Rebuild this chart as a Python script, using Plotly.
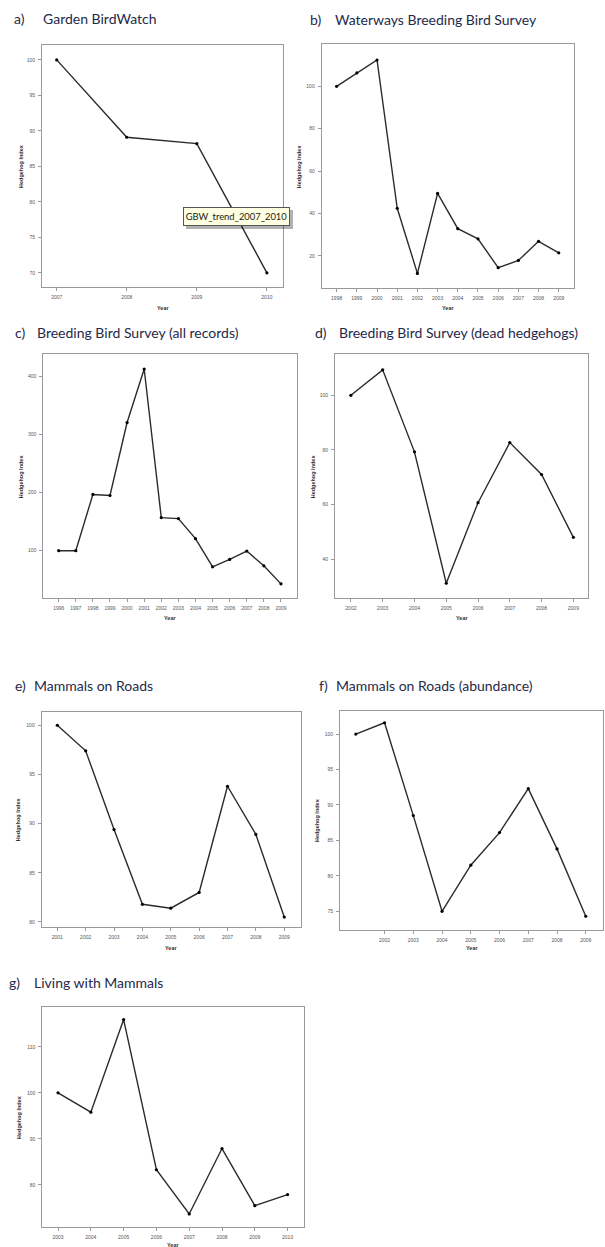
import plotly.graph_objects as go

# ---------------- data ----------------
years_a = [2007, 2008, 2009, 2010]
index_a = [100.0, 89.1, 88.2, 70.0]

years_b = [1998, 1999, 2000, 2001, 2002, 2003, 2004, 2005, 2006, 2007, 2008, 2009]
index_b = [100.0, 106.3, 112.4, 42.5, 11.8, 49.5, 32.9, 28.1, 14.5, 17.9, 26.9, 21.5]

years_c = [1996, 1997, 1998, 1999, 2000, 2001, 2002, 2003, 2004, 2005, 2006, 2007, 2008, 2009]
index_c = [100.0, 100.0, 196.6, 194.8, 320.1, 412.0, 156.9, 155.2, 120.7, 72.4, 85.1, 99.4, 74.1, 43.1]

years_d = [2002, 2003, 2004, 2005, 2006, 2007, 2008, 2009]
index_d = [100.0, 109.3, 79.3, 31.2, 60.7, 82.7, 71.0, 48.0]

years_e = [2001, 2002, 2003, 2004, 2005, 2006, 2007, 2008, 2009]
index_e = [100.0, 97.4, 89.4, 81.8, 81.4, 83.0, 93.8, 88.9, 80.5]

years_f = [2001, 2002, 2003, 2004, 2005, 2006, 2007, 2008, 2009]
index_f = [100.0, 101.6, 88.5, 75.0, 81.5, 86.1, 92.3, 83.8, 74.3]
xticks_f = [2002, 2003, 2004, 2005, 2006, 2007, 2008, 2009]

years_g = [2003, 2004, 2005, 2006, 2007, 2008, 2009, 2010]
index_g = [100.0, 95.8, 115.9, 83.3, 73.7, 87.9, 75.5, 77.9]

yticks_a = [70, 75, 80, 85, 90, 95, 100]
yticks_b = [20, 40, 60, 80, 100]
yticks_c = [100, 200, 300, 400]
yticks_d = [40, 60, 80, 100]
yticks_e = [80, 85, 90, 95, 100]
yticks_f = [75, 80, 85, 90, 95, 100]
yticks_g = [80, 90, 100, 110]

letters = ["a)", "b)", "c)", "d)", "e)", "f)", "g)"]
titles = [
    "Garden BirdWatch",
    "Waterways Breeding Bird Survey",
    "Breeding Bird Survey (all records)",
    "Breeding Bird Survey (dead hedgehogs)",
    "Mammals on Roads",
    "Mammals on Roads (abundance)",
    "Living with Mammals",
]
tooltip_text = "GBW_trend_2007_2010"

# ---------------- layout (pixel geometry) ----------------
W, H = 605, 1247
panels = [
    dict(x=years_a, y=index_a, xt=years_a, yt=yticks_a, box=(42, 283, 45, 287),
         xr=(2006.79, 2010.23), yr=(68.0, 102.1), title=(12, 40.7, 19), ylab=21, xl=(298, 308)),
    dict(x=years_b, y=index_b, xt=years_b, yt=yticks_b, box=(321.7, 574.3, 44.3, 288.3),
         xr=(1997.26, 2009.77), yr=(4.77, 119.8), title=(308, 333, 20), ylab=299, xl=(297.5, 308)),
    dict(x=years_c, y=index_c, xt=years_c, yt=yticks_c, box=(43.3, 296.7, 354.3, 598.3),
         xr=(1995.1, 2009.92), yr=(18.3, 437.3), title=(13, 35, 332), ylab=21, xl=(606.7, 618.3)),
    dict(x=years_d, y=index_d, xt=years_d, yt=yticks_d, box=(335, 588.3, 354.3, 598.3),
         xr=(2001.5, 2009.47), yr=(25.7, 115.0), title=(313, 336.7, 332), ylab=313, xl=(606.7, 617.7)),
    dict(x=years_e, y=index_e, xt=years_e, yt=yticks_e, box=(41.7, 300.7, 711.7, 926.7),
         xr=(2000.45, 2009.58), yr=(79.52, 101.38), title=(13, 32, 685), ylab=18, xl=(936.7, 947.7)),
    dict(x=years_f, y=index_f, xt=xticks_f, yt=yticks_f, box=(340, 603, 710.7, 930),
         xr=(2000.45, 2009.6), yr=(72.36, 103.3), title=(316.7, 334, 685), ylab=317.7, xl=(936.7, 947.7)),
    dict(x=years_g, y=index_g, xt=years_g, yt=yticks_g, box=(42.3, 304, 1006.7, 1227.3),
         xr=(2002.52, 2010.5), yr=(70.8, 118.7), title=(7, 32, 982), ylab=19, xl=(1236, 1244.5)),
]

fig = go.Figure()
annotations = []
TICK_FONT = dict(family="Liberation Sans", size=5, color="#555555")
FRAME = "#9a9a9a"
TITLE_COLOR = "#1F2A4A"

for i, p in enumerate(panels):
    n = "" if i == 0 else str(i + 1)
    x0, x1, y0, y1 = p["box"]
    fig.add_trace(go.Scatter(
        x=p["x"], y=p["y"], mode="lines+markers",
        line=dict(color="#2b2b2b", width=1.4),
        marker=dict(color="#000000", size=3.2),
        xaxis="x" + n, yaxis="y" + n, showlegend=False, hoverinfo="skip"))
    common = dict(showgrid=False, zeroline=False, showline=True, mirror=True,
                  linecolor=FRAME, linewidth=1, ticks="outside", ticklen=3,
                  tickcolor=FRAME, tickwidth=1, tickfont=TICK_FONT, fixedrange=True)
    fig.update_layout(**{
        "xaxis" + n: dict(domain=[x0 / W, x1 / W], range=list(p["xr"]),
                          tickmode="array", tickvals=p["xt"],
                          ticktext=[str(v) for v in p["xt"]],
                          anchor="y" + n, ticklabelstandoff=2, **common),
        "yaxis" + n: dict(domain=[1 - y1 / H, 1 - y0 / H], range=list(p["yr"]),
                          tickmode="array", tickvals=p["yt"],
                          ticktext=[str(v) for v in p["yt"]],
                          anchor="x" + n, ticklabelstandoff=2, **common),
    })
    # panel heading
    lx, tx, ty = p["title"]
    annotations.append(dict(text=letters[i], x=lx / W, y=1 - ty / H, xref="paper", yref="paper",
                            xanchor="left", yanchor="middle", showarrow=False,
                            font=dict(family="Lato", size=14, color=TITLE_COLOR)))
    annotations.append(dict(text=titles[i], x=tx / W, y=1 - ty / H, xref="paper", yref="paper",
                            xanchor="left", yanchor="middle", showarrow=False,
                            font=dict(family="Lato", size=14, color=TITLE_COLOR)))
    # axis titles
    annotations.append(dict(text="<b>Year</b>", x=(x0 + x1) / 2 / W, y=1 - p["xl"][1] / H,
                            xref="paper", yref="paper", xanchor="center", yanchor="middle",
                            showarrow=False, font=dict(family="Liberation Sans", size=5.5, color="#333333")))
    annotations.append(dict(text="<b>Hedgehog Index</b>", x=p["ylab"] / W, y=1 - (y0 + y1) / 2 / H,
                            xref="paper", yref="paper", xanchor="center", yanchor="middle",
                            textangle=-90, showarrow=False,
                            font=dict(family="Liberation Sans", size=5.5, color="#333333")))

# tooltip shadow + box on panel a (box spans x 183-290, y 207-226 px)
shapes = [dict(type="rect", xref="paper", yref="paper",
               x0=186 / W, x1=293 / W, y0=1 - 229 / H, y1=1 - 210 / H,
               fillcolor="rgba(0,0,0,0.3)", line=dict(width=0), layer="above")]
annotations.append(dict(text=tooltip_text, x=183 / W, y=1 - 207 / H, xref="paper", yref="paper",
                        xanchor="left", yanchor="top", showarrow=False,
                        width=103, height=15, align="center", valign="middle",
                        bgcolor="#FFFFE1", bordercolor="#555555", borderwidth=1, borderpad=1,
                        font=dict(family="Lato", size=9.4, color="#222222")))

fig.update_layout(width=W, height=H, autosize=False,
                  margin=dict(l=0, r=0, t=0, b=0),
                  paper_bgcolor="white", plot_bgcolor="white",
                  annotations=annotations, shapes=shapes)

fig.write_html("out.html", config=dict(displayModeBar=False))
